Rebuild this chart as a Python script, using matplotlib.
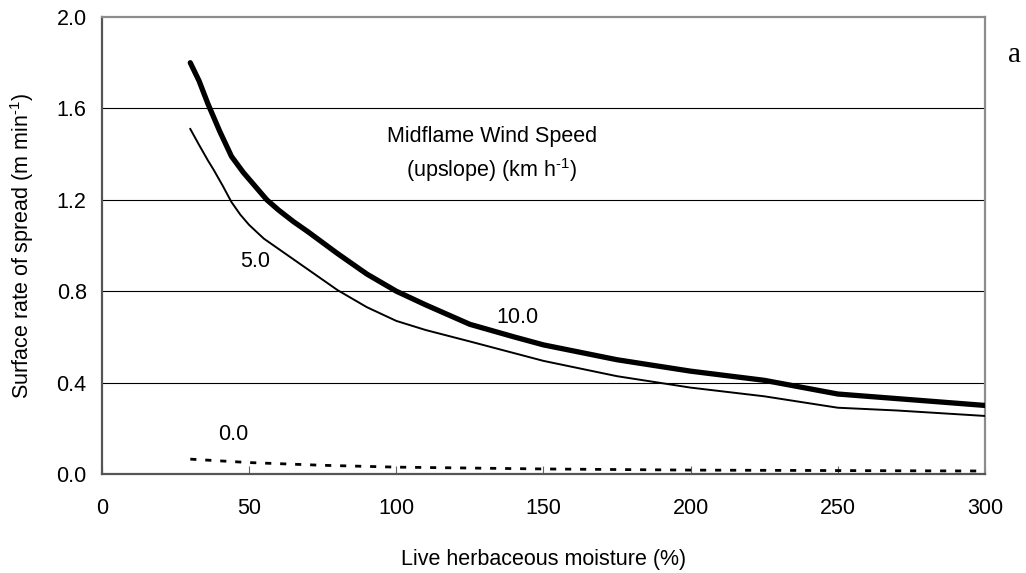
import matplotlib
matplotlib.use("Agg")
import matplotlib.pyplot as plt

plt.rcParams['font.family'] = ['Liberation Sans', 'DejaVu Sans']
plt.rcParams['mathtext.fontset'] = 'custom'
plt.rcParams['mathtext.rm'] = 'Liberation Sans'
plt.rcParams['mathtext.it'] = 'Liberation Sans:italic'
plt.rcParams['mathtext.bf'] = 'Liberation Sans:bold'

# Live herbaceous moisture (%) and surface rate of spread (m/min), upslope wind 10 km/h
moisture_10 = [30, 33, 36, 40, 44, 48, 52, 56, 60, 65, 70, 80, 90, 100, 110, 125, 140, 150,
               175, 200, 225, 250, 270, 300]
ros_wind10 = [1.80, 1.72, 1.62, 1.50, 1.39, 1.32, 1.26, 1.20, 1.155, 1.105, 1.06, 0.965, 0.875,
              0.80, 0.74, 0.655, 0.60, 0.565, 0.50, 0.45, 0.41, 0.35, 0.33, 0.30]

# upslope wind 5 km/h
moisture_5 = [30, 33, 36, 38, 41, 44, 47, 50, 55, 60, 70, 80, 90, 100, 110, 125, 150,
              175, 200, 225, 250, 270, 300]
ros_wind5 = [1.51, 1.44, 1.372, 1.33, 1.262, 1.19, 1.135, 1.09, 1.03, 0.985, 0.895, 0.805, 0.73,
             0.67, 0.63, 0.58, 0.495, 0.428, 0.378, 0.34, 0.29, 0.278, 0.254]

# no wind
moisture_0 = [30, 50, 75, 100, 150, 200, 250, 300]
ros_wind0 = [0.065, 0.05, 0.038, 0.03, 0.022, 0.017, 0.015, 0.013]

xticks = [0, 50, 100, 150, 200, 250, 300]
yticks = [0.0, 0.4, 0.8, 1.2, 1.6, 2.0]

fig = plt.figure(figsize=(10.26, 5.73), dpi=100)
ax = fig.add_axes([0.0994, 0.1728, 0.8606, 0.7975])

for y in yticks[1:-1]:
    ax.axhline(y, color='black', linewidth=0.8, zorder=1)

ax.plot(moisture_10, ros_wind10, color='black', linewidth=3.8,
        solid_capstyle='round', solid_joinstyle='round', zorder=3)
ax.plot(moisture_5, ros_wind5, color='black', linewidth=1.4,
        solid_joinstyle='round', zorder=3)
ax.plot(moisture_0, ros_wind0, color='black', linewidth=2.0, dashes=(2.2, 3.2),
        dash_capstyle='butt', zorder=3)

ax.set_xlim(0, 300)
ax.set_ylim(0, 2.0)
ax.set_xticks(xticks)
ax.set_yticks(yticks)
ax.set_yticklabels([f'{v:.1f}' for v in yticks])

ax.tick_params(axis='x', direction='in', length=6, width=0.8, color='#666666',
               labelsize=15.5, pad=17)
ax.tick_params(axis='y', length=0, labelsize=15.5, pad=11)

for side in ['top', 'right']:
    ax.spines[side].set_color('#8c8c8c')
    ax.spines[side].set_linewidth(1.6)
for side in ['left', 'bottom']:
    ax.spines[side].set_color('#555555')
    ax.spines[side].set_linewidth(1.6)

ax.set_xlabel('Live herbaceous moisture (%)', fontsize=15.5, labelpad=22)
ax.set_ylabel(r'Surface rate of spread (m min$^{\text{-1}}$)', fontsize=15.5, labelpad=15)

ax.text(132.5, 1.475, 'Midflame Wind Speed', fontsize=15.5, ha='center', va='center')
ax.text(132.5, 1.33, r'(upslope) (km h$^{\text{-1}}$)', fontsize=15.5, ha='center', va='center')
ax.text(52, 0.928, '5.0', fontsize=15.5, ha='center', va='center')
ax.text(141, 0.683, '10.0', fontsize=15.5, ha='center', va='center')
ax.text(44.5, 0.171, '0.0', fontsize=15.5, ha='center', va='center')

fig.text(0.989, 0.904, 'a', fontsize=21, family='Liberation Serif', ha='center', va='center')

fig.savefig('out.png', dpi=100)
